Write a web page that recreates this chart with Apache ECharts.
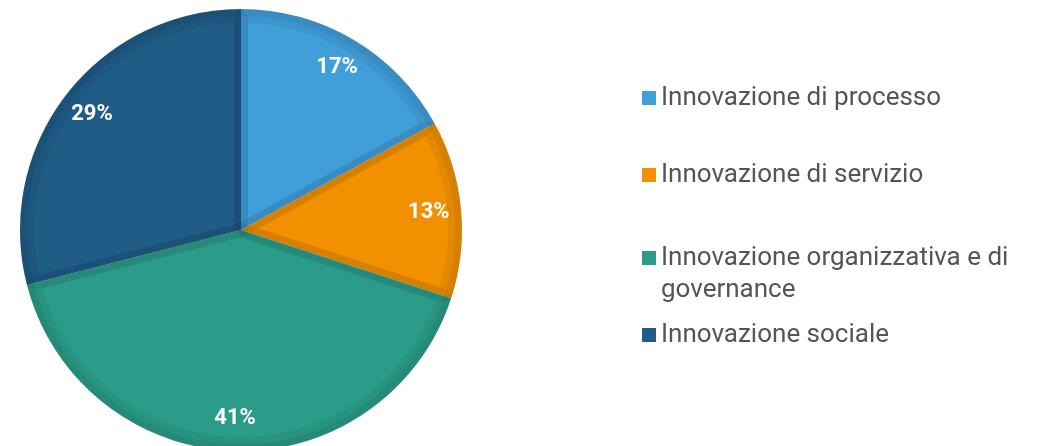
<!DOCTYPE html>
<html>
<head>
<meta charset="utf-8">
<script src="https://cdn.jsdelivr.net/npm/echarts@6/dist/echarts.min.js"></script>
<style>
html,body{margin:0;padding:0;background:#fff;}
#chart{width:1045px;height:446px;}
</style>
</head>
<body>
<div id="chart"></div>
<script>
const categories = ["Innovazione di processo", "Innovazione di servizio", "Innovazione organizzativa e di governance", "Innovazione sociale"];
const values = [17, 13, 41, 29];
const colors = ["#409ed9", "#f29000", "#2b9c89", "#1f5c86"];
const legendTops = [82, 159, 210, 319];

const R = 221;
const center = [241, 230];
const data = categories.map((n, i) => ({ name: n, value: values[i], itemStyle: { color: colors[i] } }));
const ghost = categories.map((n, i) => ({ name: n, value: values[i] }));

const chart = echarts.init(document.getElementById('chart'), null, { renderer: 'canvas' });
const textStyle = { fontFamily: 'Roboto', fontSize: 26, color: '#555555', lineHeight: 32 };
const legends = categories.map((n, i) => {
  const ts = Object.assign({}, textStyle);
  const leg = {
    data: [n], orient: 'vertical', left: 642, top: legendTops[i], padding: 0,
    icon: 'rect', itemWidth: 14, itemHeight: 14, itemGap: 0,
    selectedMode: false, textStyle: ts
  };
  if (i === 2) { ts.width = 370; ts.overflow = 'break'; leg.formatter = name => '\n' + name; }
  return leg;
});

chart.setOption({
  animation: false,
  legend: legends,
  series: [
    { type: 'pie', name: 'base', center: center, radius: R, data: data, label: { show: false }, labelLine: { show: false }, emphasis: { disabled: true } },
    { type: 'pie', name: 'edge', center: center, radius: R - 7, data: ghost, silent: true,
      itemStyle: { color: 'rgba(0,0,0,0)', borderColor: 'rgba(0,0,0,0.055)', borderWidth: 14, borderJoin: 'bevel' },
      label: { show: false }, labelLine: { show: false }, emphasis: { disabled: true } },
    { type: 'pie', name: 'ring', center: center, radius: [R - 7, R], data: [{ name: '_ring', value: 1 }], silent: true,
      itemStyle: { color: 'rgba(0,0,0,0.055)' }, label: { show: false }, labelLine: { show: false }, emphasis: { disabled: true } },
    { type: 'pie', name: 'labels', center: center, radius: [R * 0.68, R], data: ghost, silent: true,
      itemStyle: { color: 'rgba(0,0,0,0)' },
      label: { show: true, position: 'inside', formatter: p => p.value + '%', color: '#ffffff', fontFamily: 'Roboto', fontWeight: 'bold', fontSize: 22 },
      labelLine: { show: false }, emphasis: { disabled: true } }
  ]
});
</script>
</body>
</html>
